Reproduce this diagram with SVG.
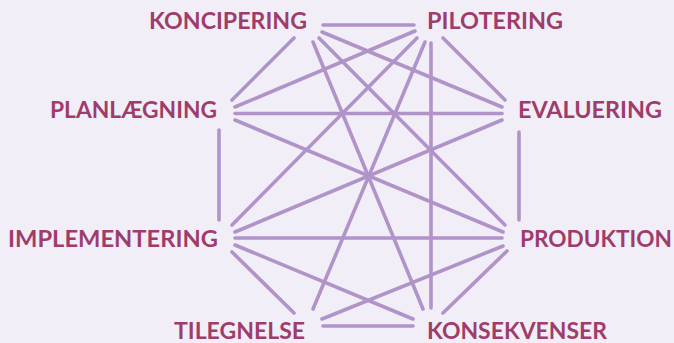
<svg xmlns="http://www.w3.org/2000/svg" width="674" height="343" viewBox="0 0 674 343">
<style>
.bg{fill:#F2EEF8}
.lbl{font-family:Lato,"Open Sans","Liberation Sans",sans-serif;font-weight:bold;font-size:22.5px;fill:#9E3D6A}
.e{stroke:#B094C9;stroke-width:3.6;stroke-linecap:round;fill:none}
</style>
<rect class="bg" x="0" y="0" width="674" height="343"/>
<g id="connectors">
<line class="e" x1="323" y1="25" x2="414" y2="25"/>
<line class="e" x1="294" y1="38" x2="232" y2="100"/>
<line class="e" x1="322" y1="32" x2="502" y2="107"/>
<line class="e" x1="319" y1="38" x2="505" y2="225"/>
<line class="e" x1="313" y1="42" x2="423" y2="309"/>
<line class="e" x1="415" y1="31" x2="235" y2="107"/>
<line class="e" x1="417" y1="38" x2="232" y2="225"/>
<line class="e" x1="425" y1="42" x2="313" y2="309"/>
<line class="e" x1="431" y1="43" x2="431" y2="308"/>
<line class="e" x1="443" y1="38" x2="505" y2="100"/>
<line class="e" x1="235" y1="113.5" x2="502" y2="113.5"/>
<line class="e" x1="235" y1="120" x2="503" y2="232"/>
<line class="e" x1="219" y1="130" x2="219" y2="220"/>
<line class="e" x1="502" y1="120" x2="235" y2="232"/>
<line class="e" x1="519" y1="132" x2="519" y2="220"/>
<line class="e" x1="235" y1="238" x2="502" y2="238"/>
<line class="e" x1="235" y1="245" x2="413" y2="319"/>
<line class="e" x1="232" y1="252" x2="294" y2="313"/>
<line class="e" x1="503" y1="246" x2="322" y2="319"/>
<line class="e" x1="507" y1="251" x2="443" y2="313"/>
<line class="e" x1="323" y1="326" x2="413" y2="326"/>
</g>
<g id="koncipering"><text class="lbl" x="149" y="29" textLength="158" lengthAdjust="spacingAndGlyphs">KONCIPERING</text></g>
<g id="pilotering"><text class="lbl" x="427" y="29" textLength="136" lengthAdjust="spacingAndGlyphs">PILOTERING</text></g>
<g id="planlaegning"><text class="lbl" x="50" y="118" textLength="167" lengthAdjust="spacingAndGlyphs">PLANLÆGNING</text></g>
<g id="evaluering"><text class="lbl" x="518" y="118" textLength="144" lengthAdjust="spacingAndGlyphs">EVALUERING</text></g>
<g id="implementering"><text class="lbl" x="8" y="247" textLength="210" lengthAdjust="spacingAndGlyphs">IMPLEMENTERING</text></g>
<g id="produktion"><text class="lbl" x="520" y="247" textLength="152" lengthAdjust="spacingAndGlyphs">PRODUKTION</text></g>
<g id="tilegnelse"><text class="lbl" x="174" y="338.5" textLength="131" lengthAdjust="spacingAndGlyphs">TILEGNELSE</text></g>
<g id="konsekvenser"><text class="lbl" x="427" y="338.5" textLength="180" lengthAdjust="spacingAndGlyphs">KONSEKVENSER</text></g>
</svg>
